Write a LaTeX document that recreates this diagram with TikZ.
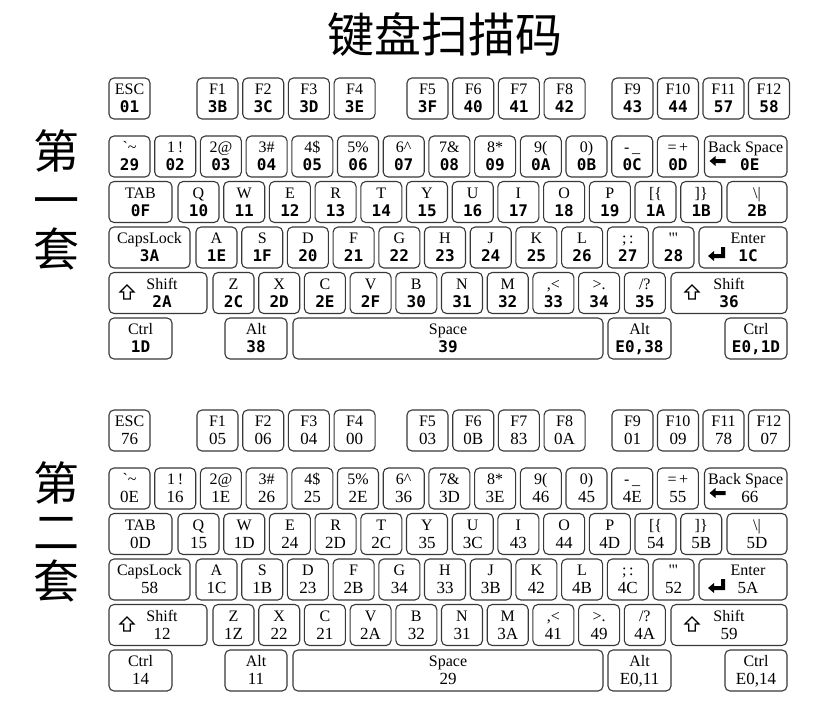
\documentclass[tikz,border=0pt]{standalone}
\usepackage{fontspec}
\setmainfont{Liberation Serif}
\newfontfamily\cjk{Noto Sans CJK SC}
\newfontfamily\monofont{DejaVu Sans Mono}
\newcommand\codefont{\monofont\bfseries\fontsize{16}{16}\selectfont}
\tikzset{
  keybox/.style={draw=black!78, line width=1.1pt, rounded corners=5pt, anchor=north west,
    minimum height=41pt, inner sep=0pt, outer sep=0pt},
  lab/.style={font=\fontsize{16}{16}\selectfont, inner sep=0pt, anchor=base},
  codetxt/.style={font=\codefont, inner sep=0pt, anchor=base},
  bigcjk/.style={font=\cjk\fontsize{47}{47}\selectfont, inner sep=0pt},
  sidecjk/.style={font=\cjk\fontsize{46}{46}\selectfont, inner sep=0pt, text height=0.84em, text depth=0.1em},
  arrowfill/.style={fill=black},
  arrowline/.style={draw=black, line width=1.2pt, line join=miter, fill=white},
}
\newcommand\kkx[8]{%
  \node[keybox, minimum width=#4pt] (#1) at ({#2},{#3}) {};
  \node[lab] (#1l) at ([xshift=#7pt,yshift=-16.5pt]#1.north) {#5};
  \node[codetxt] (#1c) at ([xshift=#8pt,yshift=-34.5pt]#1.north) {#6};
}
\newcommand\kk[6]{\kkx{#1}{#2}{#3}{#4}{#5}{#6}{0}{0}}
\newcommand\bsarrow[1]{\fill[arrowfill, shift={(#1.north west)}, shift={(13,25)}]
  (-8,0) -- (-2,-5) -- (-2,-2) -- (8,-2) -- (8,2) -- (-2,2) -- (-2,5) -- cycle;}
\newcommand\entarrow[1]{\fill[arrowfill, shift={(#1.north west)}, shift={(17,27)}]
  (-8,2) -- (-2,-3) -- (-2,0) -- (5,0) -- (5,-7) -- (9,-7) -- (9,4) -- (-2,4) -- (-2,7) -- cycle;}
\newcommand\shiftarrow[2]{\draw[arrowline, shift={(#1.north west)}, shift={(#2,20)}]
  (0,-7.5) -- (7,-0.5) -- (3.2,-0.5) -- (3.2,6.5) -- (-3.2,6.5) -- (-3.2,-0.5) -- (-7,-0.5) -- cycle;}
\begin{document}
\begin{tikzpicture}[x=1pt,y=-1pt]
\useasboundingbox (0,0) rectangle (819,701);
\fill[white] (0,0) rectangle (819,701);
\node[bigcjk] (title) at (445,35) {键盘扫描码};
\node[sidecjk] (s1a) at (56,165) {第};
\node[sidecjk] (s1b) at (56,214) {一};
\node[sidecjk] (s1c) at (56,263) {套};
\node[sidecjk] (s2a) at (56,497) {第};
\node[sidecjk] (s2b) at (56,546) {二};
\node[sidecjk] (s2c) at (56,595) {套};
% ---------------- keyboard 1 ----------------
\kk{aesc}{109}{78}{41}{ESC}{01}
\foreach \lb/\cd [count=\i from 0] in {F1/3B,F2/3C,F3/3D,F4/3E}{\kk{afa\i}{197+\i*45.7}{78}{41}{\lb}{\cd}}
\foreach \lb/\cd [count=\i from 0] in {F5/3F,F6/40,F7/41,F8/42}{\kk{afb\i}{407+\i*45.7}{78}{41}{\lb}{\cd}}
\foreach \lb/\cd [count=\i from 0] in {F9/43,F10/44,F11/57,F12/58}{\kk{afc\i}{612+\i*45.5}{78}{41}{\lb}{\cd}}
\foreach \lb/\cd [count=\i from 0] in {{\textasciigrave\textasciitilde}/29,{1\,!}/02,{2@}/03,{3\#}/04,{4\$}/05,{5\%}/06,{6\textasciicircum}/07,{7\&}/08,{8*}/09,{9(}/0A,{0)}/0B,{-\,\_}/0C,{=\,+}/0D}{\kk{an\i}{109+\i*45.7}{136}{41}{\lb}{\cd}}
\kkx{abs}{704.5}{136}{82.5}{Back Space}{0E}{0}{4}
\bsarrow{abs}
\kk{atab}{109}{181.5}{63}{TAB}{0F}
\foreach \lb/\cd [count=\i from 0] in {Q/10,W/11,E/12,R/13,T/14,Y/15,U/16,I/17,O/18,P/19,{[\{}/1A,{]\}}/1B}{\kk{at\i}{178+\i*45.7}{181.5}{41}{\lb}{\cd}}
\kk{absl}{727}{181.5}{60}{\textbackslash\textbar}{2B}
\kk{acaps}{109}{227}{81}{CapsLock}{3A}
\foreach \lb/\cd [count=\i from 0] in {A/1E,S/1F,D/20,F/21,G/22,H/23,J/24,K/25,L/26,{;\,:}/27,{\textquotesingle\textquotedbl}/28}{\kk{ac\i}{196+\i*45.7}{227}{41}{\lb}{\cd}}
\kkx{aent}{699}{227}{88}{Enter}{1C}{5}{5}
\entarrow{aent}
\kkx{als}{109}{272.5}{98}{Shift}{2A}{4}{4}
\shiftarrow{als}{18}
\foreach \lb/\cd [count=\i from 0] in {Z/2C,X/2D,C/2E,V/2F,B/30,N/31,M/32,{,<}/33,{>.}/34,{/?}/35}{\kk{as\i}{213+\i*45.7}{272.5}{41}{\lb}{\cd}}
\kk{ars}{671}{272.5}{116}{Shift}{36}
\shiftarrow{ars}{21}
\kk{actl}{109}{318}{63}{Ctrl}{1D}
\kk{aalt}{225}{318}{62}{Alt}{38}
\kk{aspc}{293}{318}{310}{Space}{39}
\kk{aralt}{608}{318}{63}{Alt}{E0,38}
\kk{arctl}{725}{318}{62}{Ctrl}{E0,1D}
% ---------------- keyboard 2 ----------------
\renewcommand\codefont{\fontsize{17}{17}\selectfont}
\begin{scope}[yshift=-332pt]
\kk{besc}{109}{78}{41}{ESC}{76}
\foreach \lb/\cd [count=\i from 0] in {F1/05,F2/06,F3/04,F4/00}{\kk{bfa\i}{197+\i*45.7}{78}{41}{\lb}{\cd}}
\foreach \lb/\cd [count=\i from 0] in {F5/03,F6/0B,F7/83,F8/0A}{\kk{bfb\i}{407+\i*45.7}{78}{41}{\lb}{\cd}}
\foreach \lb/\cd [count=\i from 0] in {F9/01,F10/09,F11/78,F12/07}{\kk{bfc\i}{612+\i*45.5}{78}{41}{\lb}{\cd}}
\foreach \lb/\cd [count=\i from 0] in {{\textasciigrave\textasciitilde}/0E,{1\,!}/16,{2@}/1E,{3\#}/26,{4\$}/25,{5\%}/2E,{6\textasciicircum}/36,{7\&}/3D,{8*}/3E,{9(}/46,{0)}/45,{-\,\_}/4E,{=\,+}/55}{\kk{bn\i}{109+\i*45.7}{136}{41}{\lb}{\cd}}
\kkx{bbs}{704.5}{136}{82.5}{Back Space}{66}{0}{4}
\bsarrow{bbs}
\kk{btab}{109}{181.5}{63}{TAB}{0D}
\foreach \lb/\cd [count=\i from 0] in {Q/15,W/1D,E/24,R/2D,T/2C,Y/35,U/3C,I/43,O/44,P/4D,{[\{}/54,{]\}}/5B}{\kk{bt\i}{178+\i*45.7}{181.5}{41}{\lb}{\cd}}
\kk{bbsl}{727}{181.5}{60}{\textbackslash\textbar}{5D}
\kk{bcaps}{109}{227}{81}{CapsLock}{58}
\foreach \lb/\cd [count=\i from 0] in {A/1C,S/1B,D/23,F/2B,G/34,H/33,J/3B,K/42,L/4B,{;\,:}/4C,{\textquotesingle\textquotedbl}/52}{\kk{bc\i}{196+\i*45.7}{227}{41}{\lb}{\cd}}
\kkx{bent}{699}{227}{88}{Enter}{5A}{5}{5}
\entarrow{bent}
\kkx{bls}{109}{272.5}{98}{Shift}{12}{4}{4}
\shiftarrow{bls}{18}
\foreach \lb/\cd [count=\i from 0] in {Z/1Z,X/22,C/21,V/2A,B/32,N/31,M/3A,{,<}/41,{>.}/49,{/?}/4A}{\kk{bs\i}{213+\i*45.7}{272.5}{41}{\lb}{\cd}}
\kk{brs}{671}{272.5}{116}{Shift}{59}
\shiftarrow{brs}{21}
\kk{bctl}{109}{318}{63}{Ctrl}{14}
\kk{balt}{225}{318}{62}{Alt}{11}
\kk{bspc}{293}{318}{310}{Space}{29}
\kk{bralt}{608}{318}{63}{Alt}{E0,11}
\kk{brctl}{725}{318}{62}{Ctrl}{E0,14}
\end{scope}
\end{tikzpicture}
\end{document}
